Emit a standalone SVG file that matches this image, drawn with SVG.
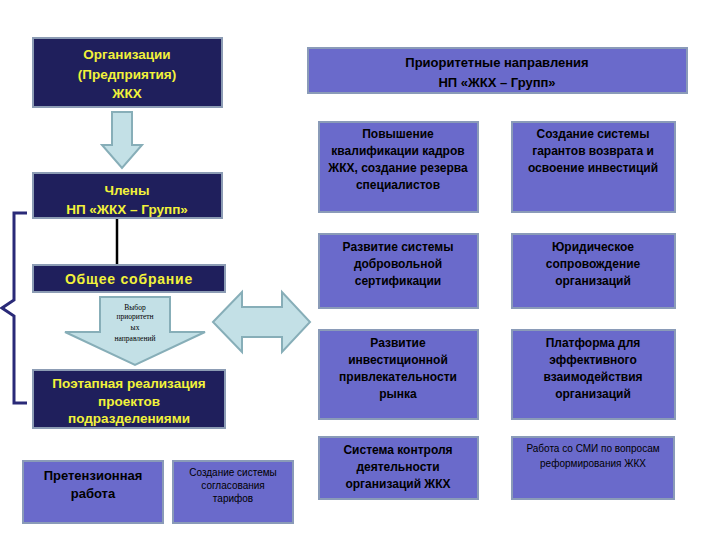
<svg xmlns="http://www.w3.org/2000/svg" width="720" height="540" viewBox="0 0 720 540">
<style>
.dark{fill:#1f1f5c;stroke:#8c9cb4;stroke-width:2}
.mid{fill:#6a6acb;stroke:#8a9bb8;stroke-width:2}
.arr{fill:#c3e0e6;stroke:#87aeb8;stroke-width:2}
.yt{font-family:"Liberation Sans",Arial,sans-serif;font-weight:bold;font-size:13.5px;fill:#f2f23a;text-anchor:middle}
.bt{font-family:"Liberation Sans",Arial,sans-serif;font-weight:bold;font-size:12px;fill:#000;text-anchor:middle}
.nt{font-family:"Liberation Sans",Arial,sans-serif;font-size:10px;fill:#000;text-anchor:middle}
.st{font-family:"Liberation Serif","Times New Roman",serif;font-size:7.5px;fill:#000;text-anchor:middle}
</style>
<rect width="720" height="540" fill="#fff"/>
<g id="connectors">
<line x1="117" y1="218" x2="117" y2="265" stroke="#000" stroke-width="2.5"/>
<path d="M27,213 H14 V300 L2,308 L14,316 V403 H27" fill="none" stroke="#2a2a78" stroke-width="3"/>
<polygon class="arr" points="112,112 132,112 132,145 142,145 122,168 102,145 112,145"/>
<polygon class="arr" points="100,297 170,297 170,332 205,332 135,365 65,332 100,332"/>
<polygon class="arr" points="213,322 242,292 242,307 282,307 282,292 310,322 282,352 282,337 242,337 242,352"/>
</g>
<g id="org"><rect class="dark" x="33" y="38" width="189" height="69"/>
<text class="yt" x="127" y="59">Организации</text><text class="yt" x="127" y="79">(Предприятия)</text><text class="yt" x="127" y="98">ЖКХ</text></g>
<g id="members"><rect class="dark" x="33" y="173" width="189" height="45"/>
<text class="yt" x="127" y="195">Члены</text><text class="yt" x="127" y="214">НП «ЖКХ – Групп»</text></g>
<g id="assembly"><rect class="dark" x="33" y="265" width="192" height="27"/>
<text class="yt" x="129" y="284" style="font-size:14px;letter-spacing:0.8px">Общее собрание</text></g>
<g id="choice"><text class="st" x="135" y="310">Выбор</text><text class="st" x="135" y="319">приоритетн</text><text class="st" x="135" y="330">ых</text><text class="st" x="135" y="341">направлений</text></g>
<g id="stages"><rect class="dark" x="33" y="370" width="192" height="58"/>
<text class="yt" x="129" y="388">Поэтапная реализация</text><text class="yt" x="129" y="406">проектов</text><text class="yt" x="129" y="423">подразделениями</text></g>
<g id="claims"><rect class="mid" x="23" y="461" width="140" height="62"/>
<text class="bt" x="93" y="480" style="font-size:13px">Претензионная</text><text class="bt" x="93" y="498" style="font-size:13px">работа</text></g>
<g id="tariffs"><rect class="mid" x="173" y="461" width="120" height="62"/>
<text class="nt" x="233" y="476">Создание системы</text><text class="nt" x="233" y="489">согласования</text><text class="nt" x="233" y="502">тарифов</text></g>
<g id="header"><rect class="mid" x="308" y="48" width="379" height="45"/>
<text class="bt" x="497" y="67" style="font-size:13px">Приоритетные направления</text><text class="bt" x="497" y="87" style="font-size:13px">НП «ЖКХ – Групп»</text></g>
<g id="r1c1"><rect class="mid" x="319" y="122" width="159" height="90"/>
<text class="bt" x="398" y="138">Повышение</text><text class="bt" x="398" y="155">квалификации кадров</text><text class="bt" x="398" y="172">ЖКХ, создание резерва</text><text class="bt" x="398" y="189">специалистов</text></g>
<g id="r1c2"><rect class="mid" x="512" y="122" width="163" height="90"/>
<text class="bt" x="593" y="138">Создание системы</text><text class="bt" x="593" y="155">гарантов возврата и</text><text class="bt" x="593" y="172">освоение инвестиций</text></g>
<g id="r2c1"><rect class="mid" x="319" y="234" width="159" height="74"/>
<text class="bt" x="398" y="251">Развитие системы</text><text class="bt" x="398" y="268">добровольной</text><text class="bt" x="398" y="285">сертификации</text></g>
<g id="r2c2"><rect class="mid" x="512" y="234" width="163" height="74"/>
<text class="bt" x="593" y="251">Юридическое</text><text class="bt" x="593" y="268">сопровождение</text><text class="bt" x="593" y="285">организаций</text></g>
<g id="r3c1"><rect class="mid" x="319" y="330" width="159" height="89"/>
<text class="bt" x="398" y="347">Развитие</text><text class="bt" x="398" y="364">инвестиционной</text><text class="bt" x="398" y="381">привлекательности</text><text class="bt" x="398" y="398">рынка</text></g>
<g id="r3c2"><rect class="mid" x="512" y="330" width="163" height="89"/>
<text class="bt" x="593" y="347">Платформа для</text><text class="bt" x="593" y="364">эффективного</text><text class="bt" x="593" y="381">взаимодействия</text><text class="bt" x="593" y="398">организаций</text></g>
<g id="r4c1"><rect class="mid" x="319" y="437" width="159" height="62"/>
<text class="bt" x="398" y="454">Система контроля</text><text class="bt" x="398" y="471">деятельности</text><text class="bt" x="398" y="488">организаций ЖКХ</text></g>
<g id="r4c2"><rect class="mid" x="512" y="437" width="162" height="62"/>
<text class="nt" x="593" y="452">Работа со СМИ по вопросам</text><text class="nt" x="593" y="467">реформирования ЖКХ</text></g>
</svg>
